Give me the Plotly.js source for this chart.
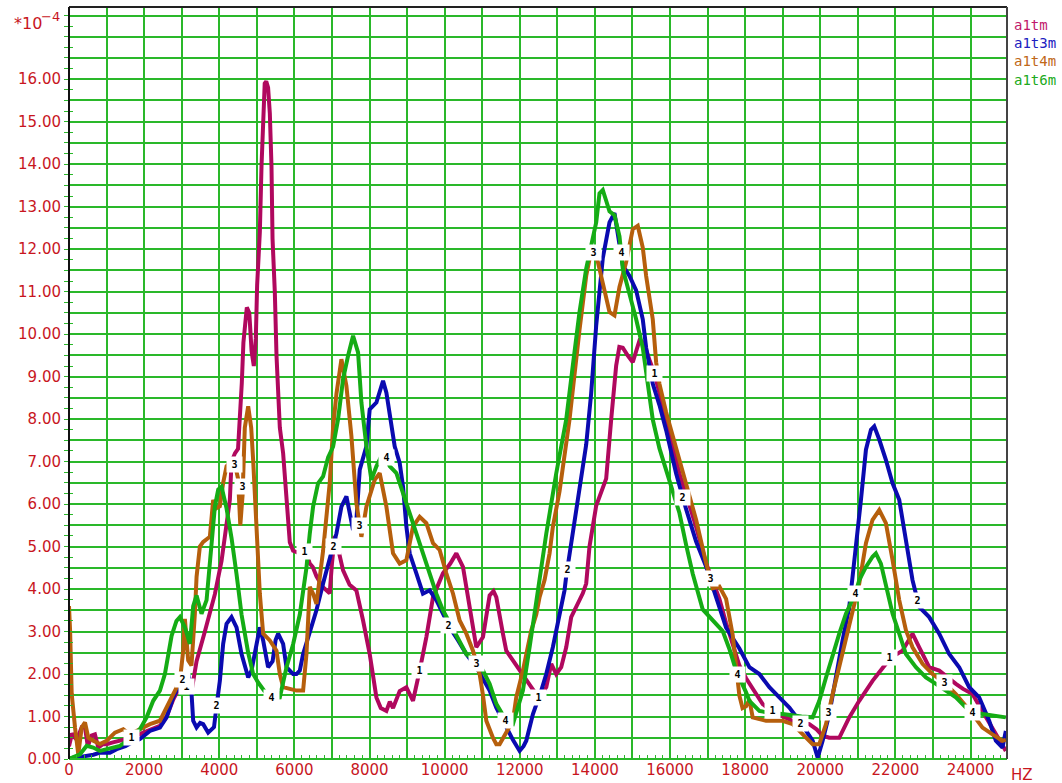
<!DOCTYPE html>
<html><head><meta charset="utf-8">
<script src="https://cdn.plot.ly/plotly-3.0.1.min.js"></script>
<style>html,body{margin:0;padding:0;background:#fff;}#chart{width:1062px;height:783px;}</style>
</head><body><div id="chart"></div>
<script>
// ---- data (values in units of 1e-4) ----
const seriesNames = ['a1tm', 'a1t3m', 'a1t4m', 'a1t6m'];
const seriesMarks = ['1', '2', '3', '4'];

const a1tmFreq = [0,80,160,250,340,426,500,600,690,780,900,1000,1170,1400,1660,1976,2200,2420,2600,2774,2950,3130,3263,3396,3617,3883,4061,4194,4282,4327,4420,4500,4548,4600,4643,4734,4800,4860,4920,4973,5008,5080,5125,5168,5210,5250,5300,5346,5390,5418,5479,5524,5560,5612,5700,5790,5878,5965,6144,6300,6410,6490,6588,6755,6940,7000,7074,7150,7296,7470,7650,7828,8005,8183,8300,8449,8540,8626,8720,8803,8981,9070,9158,9335,9513,9690,9955,10150,10311,10488,10665,10843,11020,11197,11300,11375,11551,11640,11817,11995,12128,12306,12500,12705,12838,12970,13103,13236,13369,13502,13678,13768,13856,14034,14300,14433,14566,14650,14742,14870,15008,15186,15300,15450,15585,15750,15896,16072,16250,16472,16694,16960,17136,17314,17492,17668,17846,18024,18200,18466,18732,19000,19264,19500,19707,19900,20060,20239,20505,20771,21037,21391,21746,21835,22000,22189,22455,22633,22899,23165,23400,23609,23800,24052,24200,24407,24673,24939];
const a1tmVal  = [0.3,0.6,0.5,0.55,0.75,0.74,0.3,0.55,0.58,0.27,0.35,0.35,0.39,0.45,0.5,0.62,0.7,0.78,1.0,1.4,1.7,1.7,1.6,2.3,3.0,3.88,4.66,5.6,6.1,7.0,7.2,7.3,8.0,8.85,9.8,10.63,10.5,9.6,9.25,9.9,11.15,12.4,13.96,15.2,15.9,15.95,15.8,15.2,13.96,12.25,10.99,9.49,8.54,7.8,7.2,6.1,5.1,4.9,4.84,4.9,4.6,4.52,4.3,4.05,3.9,4.6,5.25,5.0,4.44,4.1,3.97,3.26,2.47,1.45,1.2,1.13,1.35,1.2,1.45,1.6,1.69,1.5,1.37,2.08,2.87,3.81,4.37,4.6,4.84,4.52,3.58,2.63,2.87,3.85,3.95,3.81,2.95,2.55,2.32,2.08,1.92,1.69,1.45,1.69,2.24,2.0,2.16,2.63,3.34,3.58,3.9,4.13,5.0,5.96,6.6,7.99,9.26,9.7,9.68,9.5,9.34,9.85,9.8,9.4,9.07,8.5,7.99,7.3,6.72,6.1,5.46,4.61,4.2,3.77,3.2,2.67,2.2,1.9,1.66,1.29,1.13,1.0,0.9,0.85,0.82,0.7,0.55,0.5,0.5,0.98,1.37,1.84,2.24,2.4,2.45,2.55,2.95,2.63,2.16,2.08,1.9,1.77,1.65,1.53,1.3,0.98,0.58,0.19];

const a1t3mFreq = [0,100,300,470,650,824,1090,1269,1500,1700,1888,2154,2420,2598,2774,2997,3173,3218,3263,3306,3396,3490,3572,3705,3795,3860,3928,4016,4104,4194,4327,4460,4593,4770,4858,4991,5080,5168,5300,5420,5500,5567,5700,5790,5966,6056,6144,6232,6410,6587,6764,6941,7120,7252,7385,7473,7562,7651,7740,7917,8005,8183,8360,8449,8537,8670,8803,8892,8981,9069,9247,9423,9600,9779,9955,10133,10350,10577,10843,11109,11197,11375,11550,11728,11817,11995,12100,12173,12350,12572,12705,12880,13058,13191,13236,13502,13768,13900,14034,14210,14388,14521,14609,14742,14920,15098,15274,15364,15540,15718,15896,16162,16428,16694,16960,17226,17492,17846,18112,18378,18644,18909,19176,19441,19619,19796,19930,20062,20239,20417,20593,20771,20949,21082,21215,21348,21436,21569,21746,21924,22101,22279,22455,22633,22899,23165,23431,23697,23963,24229,24495,24673,24850,24939];
const a1t3mVal  = [0,0.03,0.05,0.07,0.1,0.15,0.15,0.23,0.3,0.4,0.47,0.66,0.74,0.98,1.45,1.84,2.0,1.84,1.53,0.9,0.74,0.85,0.82,0.62,0.7,0.75,1.25,1.84,2.71,3.18,3.34,3.1,2.47,1.92,2.08,2.71,3.1,2.79,2.16,2.3,2.8,2.95,2.71,2.16,2.0,2.0,2.08,2.47,2.95,3.5,4.13,4.68,5.31,5.94,6.18,5.79,5.39,5.63,6.81,7.36,8.23,8.39,8.9,8.62,8.08,7.36,6.97,6.41,5.47,4.84,4.37,3.89,3.97,3.74,3.42,3.1,2.8,2.47,2.16,1.77,1.61,1.21,0.9,0.58,0.45,0.19,0.3,0.43,1.06,1.61,2.0,2.63,3.42,3.97,4.3,5.88,7.4,8.6,10.2,11.79,12.63,12.85,12.38,11.62,11.37,11.03,10.35,9.68,8.83,8.33,7.74,6.72,5.88,5.12,4.53,3.77,3.09,2.6,2.16,2.0,1.69,1.45,1.21,0.9,0.66,0.43,0.03,0.43,1.06,2.0,2.79,3.58,4.92,6.1,7.28,7.75,7.83,7.52,7.04,6.49,6.1,5.15,4.21,3.58,3.34,2.95,2.47,2.16,1.69,1.45,0.9,0.43,0.27,0.66];

const a1t4mFreq = [0,30,72,120,160,247,290,338,426,513,646,824,1002,1223,1444,1622,1888,2154,2420,2686,2952,3040,3085,3173,3260,3351,3396,3484,3572,3750,3838,3920,4016,4104,4194,4282,4400,4500,4560,4620,4680,4770,4850,4902,4990,5080,5168,5346,5524,5612,5700,5900,6056,6232,6321,6410,6498,6587,6764,6941,7030,7120,7252,7385,7518,7651,7784,7917,8138,8271,8449,8626,8803,8981,9158,9335,9513,9690,9867,10045,10223,10399,10577,10754,10931,11020,11109,11285,11375,11463,11560,11684,11817,11906,12083,12306,12439,12527,12660,12793,12880,13058,13324,13590,13768,13900,14034,14210,14388,14521,14654,14832,15008,15141,15274,15364,15540,15630,15718,15896,16162,16428,16694,16960,17136,17314,17492,17668,17758,17846,17930,18024,18112,18200,18556,18997,19264,19619,19796,19973,20152,20329,20505,20683,20860,21037,21215,21391,21569,21746,21924,22101,22279,22455,22721,22987,23300,23609,24052,24317,24584,24850,24939];
const a1t4mVal  = [3.6,3.0,1.53,1.0,0.74,0.11,0.5,0.74,0.86,0.5,0.43,0.35,0.43,0.62,0.7,0.58,0.7,0.82,0.9,1.37,1.84,2.55,3.3,2.32,2.2,3.42,4.29,5.0,5.11,5.23,6.1,5.9,5.95,6.5,6.89,6.97,7.0,6.6,5.5,6.2,7.8,8.3,7.8,7.04,5.3,3.89,2.95,2.79,2.55,2.0,1.69,1.65,1.61,1.61,2.47,4.05,3.89,3.65,4.9,6.5,7.8,8.6,9.41,8.78,7.6,6.02,5.23,5.94,6.57,6.73,5.94,4.84,4.6,4.68,5.47,5.7,5.55,5.08,4.92,4.37,3.89,3.26,2.95,2.55,2.0,1.5,0.9,0.5,0.35,0.35,0.5,0.66,0.9,1.45,2.08,3.03,3.4,3.81,4.21,4.84,5.46,6.3,7.99,10.1,11.37,11.96,11.87,11.2,10.52,10.44,11.11,11.7,12.47,12.55,12.04,11.37,10.35,9.34,8.83,8.16,7.31,6.47,5.63,4.61,4.02,4.06,3.77,2.92,2.08,1.49,1.2,1.24,1.4,0.98,0.9,0.9,0.82,0.5,0.35,0.35,0.82,1.53,2.16,2.79,3.42,4.13,5.08,5.63,5.86,5.55,4.68,3.74,3.03,2.63,2.24,2.0,1.8,1.53,1.06,0.74,0.58,0.43,0.45];

const a1t6mFreq = [0,120,293,470,646,824,1002,1178,1356,1500,1710,1888,2066,2242,2420,2553,2731,2860,2952,3085,3218,3306,3396,3528,3662,3795,3883,3972,4061,4194,4327,4460,4593,4770,4902,5035,5200,5400,5612,5790,5966,6144,6321,6410,6498,6630,6764,6897,7030,7163,7296,7429,7562,7695,7784,7917,8050,8183,8300,8449,8537,8715,8892,9069,9247,9423,9600,9779,9955,10133,10311,10577,10851,11020,11197,11375,11507,11650,11817,11995,12083,12261,12439,12527,12705,12970,13236,13412,13590,13768,13900,14034,14122,14210,14300,14388,14521,14654,14742,14920,15098,15274,15407,15540,15718,15896,16072,16250,16428,16604,16870,17136,17402,17580,17758,18024,18112,18378,18700,18997,19264,19500,19796,19973,20152,20329,20505,20683,20931,21037,21215,21391,21480,21613,21746,21924,22101,22279,22545,22811,23077,23343,23609,23875,24052,24317,24673,24939];
const a1t6mVal  = [0,0.05,0.11,0.31,0.27,0.19,0.23,0.27,0.31,0.4,0.58,0.7,0.98,1.37,1.61,2.0,2.9,3.25,3.34,3.1,2.71,3.6,3.85,3.42,3.74,5.0,5.94,6.34,6.41,5.9,5.2,4.35,3.4,2.5,2.0,1.8,1.6,1.43,1.45,2.16,2.7,3.4,4.5,5.31,5.94,6.49,6.65,7.1,7.35,8.0,8.94,9.49,9.96,9.57,8.39,7.36,6.57,6.89,7.1,7.1,6.89,6.73,6.26,5.79,5.31,4.84,4.37,3.89,3.5,3.2,2.87,2.47,2.3,2.08,1.77,1.3,1.1,0.85,0.82,1.37,1.61,2.63,3.7,4.21,5.3,6.72,7.99,9.26,10.52,11.54,12.1,12.63,13.31,13.39,13.14,12.89,12.8,12.3,11.54,10.95,10.35,9.68,8.83,7.99,7.31,6.81,6.3,5.79,5.04,4.36,3.52,3.26,3.01,2.59,2.08,1.57,1.37,1.13,1.08,1.06,1.02,1.0,0.98,1.37,1.92,2.47,2.95,3.42,3.9,4.21,4.52,4.76,4.84,4.6,4.05,3.42,2.95,2.47,2.16,1.92,1.77,1.61,1.45,1.21,1.1,1.06,1.02,0.98];

// frequencies where each curve carries its numbered tag
const a1tmTagFreq  = [1660, 3130, 6277, 9335, 12508, 15585, 18732, 21835];
const a1t3mTagFreq = [3023, 3928, 7030, 10114, 13263, 16338, 19486, 22588];
const a1t4mTagFreq = [4415, 4628, 7739, 10851, 13963, 17066, 20221, 23298];
const a1t6mTagFreq = [5390, 8449, 11622, 14699, 17801, 20931, 24052];

const yTickValues = [0,1,2,3,4,5,6,7,8,9,10,11,12,13,14,15,16];
const yTickLabels = ['0.00','1.00','2.00','3.00','4.00','5.00','6.00','7.00','8.00','9.00','10.00','11.00','12.00','13.00','14.00','15.00','16.00'];
const xTickValues = [0,2000,4000,6000,8000,10000,12000,14000,16000,18000,20000,22000,24000];
const xTickLabels = ['0','2000','4000','6000','8000','10000','12000','14000','16000','18000','20000','22000','24000'];

// ---- styling ----
const lineColors = ['#b0085e', '#0a0ab0', '#b65f0c', '#15ac15'];
const legendColors = ['#c0186c', '#2020c0', '#c06818', '#20aa20'];
const gridColor = '#2ab82a';
const labelRed = '#c8161e';

const freqs = [a1tmFreq, a1t3mFreq, a1t4mFreq, a1t6mFreq];
const vals = [a1tmVal, a1t3mVal, a1t4mVal, a1t6mVal];
const tagFreqs = [a1tmTagFreq, a1t3mTagFreq, a1t4mTagFreq, a1t6mTagFreq];

function interp(xs, ys, x) {
  for (let i = 1; i < xs.length; i++) {
    if (x <= xs[i]) {
      const t = (x - xs[i-1]) / (xs[i] - xs[i-1]);
      return ys[i-1] + t * (ys[i] - ys[i-1]);
    }
  }
  return ys[ys.length - 1];
}

const traces = seriesNames.map((n, i) => ({
  type: 'scatter', mode: 'lines', name: n,
  x: freqs[i], y: vals[i],
  line: { color: lineColors[i], width: 4 },
  hoverinfo: 'skip', showlegend: false
}));
// carriers for the overlay axes that draw the fine ticks
traces.push({ type: 'scatter', mode: 'lines', x: [], y: [], xaxis: 'x2', yaxis: 'y2', showlegend: false, hoverinfo: 'skip' });
traces.push({ type: 'scatter', mode: 'lines', x: [], y: [], xaxis: 'x', yaxis: 'y3', showlegend: false, hoverinfo: 'skip' });

const annotations = [];
seriesNames.forEach((n, i) => {
  tagFreqs[i].forEach(f => {
    annotations.push({
      x: f, y: interp(freqs[i], vals[i], f), xref: 'x', yref: 'y',
      text: seriesMarks[i], showarrow: false,
      font: { family: 'DejaVu Sans Mono', size: 10, color: '#000', weight: 'bold' },
      bgcolor: '#ffffff', width: 13, height: 13, borderpad: 1
    });
  });
  annotations.push({
    x: 1, xref: 'paper', xanchor: 'left', xshift: 5,
    y: 1, yref: 'paper', yanchor: 'middle', yshift: -18 - 18.2 * i,
    text: n, showarrow: false,
    font: { family: 'DejaVu Sans Mono', size: 14, color: legendColors[i] }
  });
});
// exponent note above the value axis, written as two pieces
annotations.push({
  x: 0, xref: 'paper', xanchor: 'right', xshift: -25,
  y: 17.3, yref: 'y', yanchor: 'middle',
  text: '*10', showarrow: false,
  font: { family: 'DejaVu Sans', size: 16, color: labelRed }
});
annotations.push({
  x: 0, xref: 'paper', xanchor: 'right', xshift: -7,
  y: 17.48, yref: 'y', yanchor: 'middle',
  text: '−4', showarrow: false,
  font: { family: 'DejaVu Sans', size: 13, color: labelRed }
});
annotations.push({
  x: 1, xref: 'paper', xanchor: 'left', xshift: 2,
  y: 0, yref: 'paper', yanchor: 'top', yshift: -5,
  text: 'HZ', showarrow: false,
  font: { family: 'DejaVu Sans', size: 15, color: labelRed }
});

const xRange = [0, 24970];
const yRange = [0, 17.7];
const tickFont = { family: 'DejaVu Sans', size: 15, color: labelRed };
const layout = {
  width: 1062, height: 783,
  margin: { l: 69, r: 55, t: 7, b: 24, pad: 0 },
  paper_bgcolor: '#ffffff', plot_bgcolor: '#ffffff',
  showlegend: false,
  xaxis: {
    range: xRange, tickmode: 'array', tickvals: xTickValues, ticktext: xTickLabels,
    showgrid: true, gridcolor: gridColor, gridwidth: 2, zeroline: false, showline: false,
    ticks: 'inside', ticklen: 4, tickcolor: gridColor, tickwidth: 1,
    minor: { dtick: 1000, tick0: 0, showgrid: true, gridcolor: gridColor, gridwidth: 2, ticks: 'inside', ticklen: 4, tickcolor: gridColor, tickwidth: 1 },
    tickfont: tickFont, fixedrange: true
  },
  xaxis2: {
    overlaying: 'x', side: 'bottom', range: xRange, tickmode: 'linear', tick0: 0, dtick: 200,
    showgrid: false, zeroline: false, showline: false, showticklabels: false,
    ticks: 'inside', ticklen: 4, tickcolor: gridColor, tickwidth: 1, fixedrange: true
  },
  yaxis: {
    range: yRange, tickmode: 'array', tickvals: yTickValues, ticktext: yTickLabels,
    showgrid: true, gridcolor: gridColor, gridwidth: 2, zeroline: false, showline: false,
    ticks: 'outside', ticklen: 4, tickcolor: gridColor, tickwidth: 1,
    minor: { dtick: 0.5, tick0: 0, showgrid: true, gridcolor: gridColor, gridwidth: 2, ticks: 'outside', ticklen: 4, tickcolor: gridColor, tickwidth: 1 },
    tickfont: tickFont, fixedrange: true
  },
  yaxis2: {
    overlaying: 'y', side: 'left', range: yRange, tickmode: 'linear', tick0: 0, dtick: 0.25,
    showgrid: false, zeroline: false, showline: false, showticklabels: false,
    ticks: 'inside', ticklen: 4, tickcolor: gridColor, tickwidth: 1, fixedrange: true
  },
  yaxis3: {
    overlaying: 'y', side: 'left', range: yRange, tickmode: 'linear', tick0: 0, dtick: 0.25,
    showgrid: false, zeroline: false, showline: false, showticklabels: false,
    ticks: 'outside', ticklen: 4, tickcolor: gridColor, tickwidth: 1, fixedrange: true
  },
  shapes: [
    { type: 'line', xref: 'paper', yref: 'paper', x0: 0, x1: 1, y0: 0, y1: 0, line: { color: gridColor, width: 2 } },
    { type: 'line', xref: 'paper', yref: 'paper', x0: 0, x1: 1, y0: 1, y1: 1, line: { color: '#222222', width: 2 } },
    { type: 'line', xref: 'paper', yref: 'paper', x0: 1, x1: 1, y0: 0, y1: 1, line: { color: '#444444', width: 2 } },
    { type: 'line', xref: 'paper', yref: 'paper', x0: 0, x1: 0, y0: 0, y1: 1, line: { color: '#111111', width: 2 } }
  ],
  annotations: annotations
};

Plotly.newPlot('chart', traces, layout, { displayModeBar: false, staticPlot: true });
</script>
</body></html>
